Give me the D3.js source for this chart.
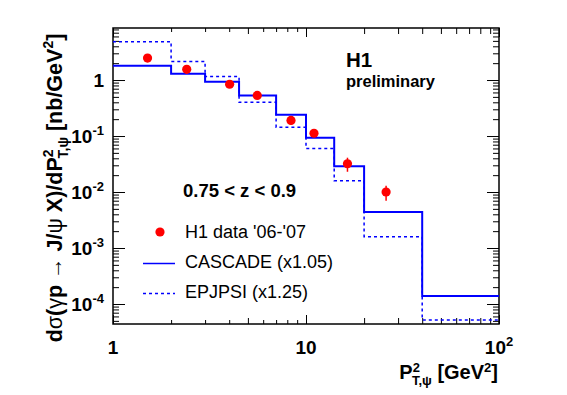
<!DOCTYPE html>
<html>
<head>
<meta charset="utf-8">
<script src="https://cdn.jsdelivr.net/npm/d3@7"></script>
<style>
  body { margin: 0; background: #fff; }
  text { font-family: "Liberation Sans", Arial, sans-serif; }
</style>
</head>
<body>
<div id="chart"></div>
<script>
// bin edges in P_T^2 [GeV^2]
var binEdges = [1, 2, 3, 4.5, 7, 10, 14, 20, 40, 100];
var cascade = [1.80, 1.30, 0.93, 0.53, 0.24, 0.093, 0.0288, 0.0044, 0.000139];
var epjpsi  = [4.83, 2.15, 1.15, 0.40, 0.143, 0.060, 0.0159, 0.00159, 0.000052];

// H1 data points
var dataX   = [1.51, 2.41, 4.02, 5.59, 8.36, 11.0, 16.4, 26.0];
var dataY   = [2.47, 1.55, 0.84, 0.53, 0.19, 0.112, 0.032, 0.0100];
var dataErr = [0.15, 0.10, 0.05, 0.03, 0.03, 0.015, 0.009, 0.003];

var xTicks = [1, 10, 100];
var yTicks = [1e-4, 1e-3, 1e-2, 1e-1, 1];
var yTickLabels = [["10", "-4"], ["10", "-3"], ["10", "-2"], ["10", "-1"], ["1", ""]];
var xTickLabels = [["1", ""], ["10", ""], ["10", "2"]];

var legendLabels = ["H1 data '06-'07", "CASCADE (x1.05)", "EPJPSI (x1.25)"];

var width = 567, height = 395;
var m = {left: 113, right: 499, top: 28, bottom: 324};

var svg = d3.select("#chart").append("svg")
  .attr("width", width).attr("height", height);

var x = d3.scaleLog().domain([1, 100]).range([m.left, m.right]);
var y = d3.scaleLog().domain([10 ** -4.357, 10 ** 0.929]).range([m.bottom, m.top]);

svg.append("clipPath").attr("id", "clip")
  .append("rect").attr("x", m.left).attr("y", m.top)
  .attr("width", m.right - m.left).attr("height", m.bottom - m.top);

// minor tick values
var xMinor = [];
for (var d = 1; d < 100; d *= 10)
  for (var k = 2; k <= 9; k++) xMinor.push(d * k);
var yMinor = [];
for (var e = -5; e <= 0; e++)
  for (var k2 = 2; k2 <= 9; k2++) {
    var v = k2 * Math.pow(10, e);
    if (v > y.domain()[0] && v < y.domain()[1]) yMinor.push(v);
  }

function tickAxis(axis, pos, vals, size) {
  var g = svg.append("g").attr("transform", pos)
    .call(axis.tickValues(vals).tickSize(size).tickFormat(""));
  g.select(".domain").remove();
  g.selectAll("line").attr("stroke", "#000").attr("stroke-width", 1);
  return g;
}

// bottom / top ticks (inside)
var xMid = xMinor.filter(function(v){return v % 5 === 0 && v !== 10;});
var xSmall = xMinor.filter(function(v){return v % 5 !== 0;});
tickAxis(d3.axisBottom(x), "translate(0," + m.bottom + ")", xTicks, -9);
tickAxis(d3.axisBottom(x), "translate(0," + m.bottom + ")", xMid, -6);
tickAxis(d3.axisBottom(x), "translate(0," + m.bottom + ")", xSmall, -4);
tickAxis(d3.axisTop(x), "translate(0," + m.top + ")", xTicks, -9);
tickAxis(d3.axisTop(x), "translate(0," + m.top + ")", xMid, -6);
tickAxis(d3.axisTop(x), "translate(0," + m.top + ")", xSmall, -4);

// left / right ticks (inside)
tickAxis(d3.axisLeft(y), "translate(" + m.left + ",0)", yTicks, -12);
tickAxis(d3.axisLeft(y), "translate(" + m.left + ",0)", yMinor, -6);
tickAxis(d3.axisRight(y), "translate(" + m.right + ",0)", yTicks, -12);
tickAxis(d3.axisRight(y), "translate(" + m.right + ",0)", yMinor, -6);

// frame
svg.append("rect")
  .attr("x", m.left).attr("y", m.top)
  .attr("width", m.right - m.left).attr("height", m.bottom - m.top)
  .attr("fill", "none").attr("stroke", "#000").attr("stroke-width", 1.5);

// tick labels
yTicks.forEach(function(v, i) {
  var t = svg.append("text")
    .attr("x", 104).attr("y", y(v) + 7)
    .attr("text-anchor", "end")
    .attr("font-size", 19).attr("font-weight", "bold");
  t.append("tspan").text(yTickLabels[i][0]);
  if (yTickLabels[i][1]) t.append("tspan").attr("dy", -8).attr("font-size", 13).text(yTickLabels[i][1]);
});
xTicks.forEach(function(v, i) {
  var t = svg.append("text")
    .attr("x", x(v)).attr("y", 354)
    .attr("text-anchor", "middle")
    .attr("font-size", 19).attr("font-weight", "bold");
  t.append("tspan").text(xTickLabels[i][0]);
  if (xTickLabels[i][1]) t.append("tspan").attr("dy", -8).attr("font-size", 13).text(xTickLabels[i][1]);
});

// histogram step paths
function stepPath(vals) {
  var p = "";
  vals.forEach(function(v, i) {
    var x0 = x(binEdges[i]), x1 = x(binEdges[i + 1]), yy = y(v);
    p += (i === 0 ? "M" : "L") + x0 + "," + yy + "L" + x1 + "," + yy;
  });
  return p;
}
var plot = svg.append("g").attr("clip-path", "url(#clip)");
plot.append("path").attr("d", stepPath(epjpsi))
  .attr("fill", "none").attr("stroke", "#0000ff").attr("stroke-width", 1.5)
  .attr("stroke-dasharray", "3,3");
plot.append("path").attr("d", stepPath(cascade))
  .attr("fill", "none").attr("stroke", "#0000ff").attr("stroke-width", 2);

// data points
var pts = plot.selectAll(".pt").data(dataX.map(function(v, i) {
  return {x: v, y: dataY[i], e: dataErr[i]};
})).enter().append("g");
pts.append("line")
  .attr("x1", function(d){return x(d.x);}).attr("x2", function(d){return x(d.x);})
  .attr("y1", function(d){return y(d.y + d.e);}).attr("y2", function(d){return y(d.y - d.e);})
  .attr("stroke", "#ff0000").attr("stroke-width", 1.5);
pts.append("circle")
  .attr("cx", function(d){return x(d.x);}).attr("cy", function(d){return y(d.y);})
  .attr("r", 4.6).attr("fill", "#ff0000");

// H1 preliminary
svg.append("text").attr("x", 346).attr("y", 67)
  .attr("font-size", 20.5).attr("font-weight", "bold").text("H1");
svg.append("text").attr("x", 346).attr("y", 87)
  .attr("font-size", 16.5).attr("font-weight", "bold").text("preliminary");

// z range
svg.append("text").attr("x", 183).attr("y", 197)
  .attr("font-size", 18.5).attr("font-weight", "bold").text("0.75 < z < 0.9");

// legend
svg.append("circle").attr("cx", 160).attr("cy", 232).attr("r", 4.6).attr("fill", "#ff0000");
svg.append("line").attr("x1", 143).attr("x2", 175).attr("y1", 263.5).attr("y2", 263.5)
  .attr("stroke", "#0000ff").attr("stroke-width", 1.5);
svg.append("line").attr("x1", 143).attr("x2", 175).attr("y1", 293.5).attr("y2", 293.5)
  .attr("stroke", "#0000ff").attr("stroke-width", 1.5).attr("stroke-dasharray", "3,3");
legendLabels.forEach(function(l, i) {
  svg.append("text").attr("x", 185).attr("y", 238 + 30 * i)
    .attr("font-size", 18).text(l);
});

// x axis title
var xt = svg.append("text").attr("x", 498).attr("y", 379)
  .attr("text-anchor", "end").attr("font-size", 20).attr("font-weight", "bold");
xt.append("tspan").text("P");
xt.append("tspan").attr("dy", -7).attr("font-size", 13).text("2");
xt.append("tspan").attr("dx", -8).attr("dy", 13).attr("font-size", 13).text("T,ψ");
xt.append("tspan").attr("dy", -6).text(" [GeV");
xt.append("tspan").attr("dy", -7).attr("font-size", 13).text("2");
xt.append("tspan").attr("dy", 7).text("]");

// y axis title
var yt = svg.append("text")
  .attr("transform", "translate(62,188) rotate(-90)")
  .attr("text-anchor", "middle").attr("font-size", 21.5).attr("font-weight", "bold");
yt.append("tspan").text("d");
yt.append("tspan").attr("font-weight", "normal").text("σ");
yt.append("tspan").text("(");
yt.append("tspan").attr("font-weight", "normal").text("γ");
yt.append("tspan").text("p ");
yt.append("tspan").attr("font-weight", "normal").text("→");
yt.append("tspan").text(" J/");
yt.append("tspan").attr("font-weight", "normal").text("ψ");
yt.append("tspan").text(" X)/dP");
yt.append("tspan").attr("dy", -9).attr("font-size", 14).text("2");
yt.append("tspan").attr("dx", -9).attr("dy", 15).attr("font-size", 14).text("T,ψ");
yt.append("tspan").attr("dy", -6).text("  [nb/GeV");
yt.append("tspan").attr("dy", -9).attr("font-size", 14).text("2");
yt.append("tspan").attr("dy", 9).text("]");
</script>
</body>
</html>
